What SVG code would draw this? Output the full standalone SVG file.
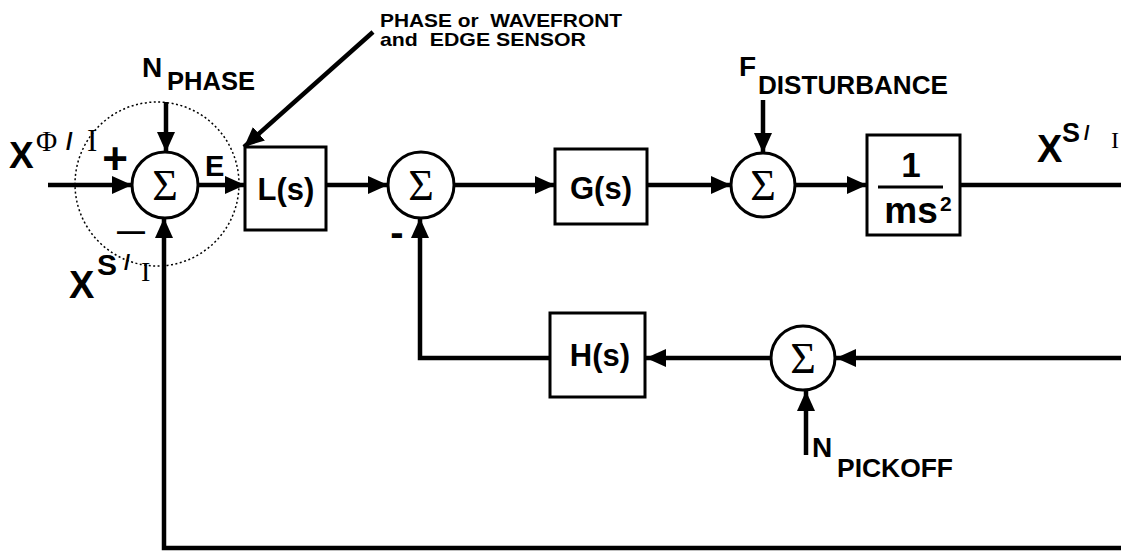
<svg xmlns="http://www.w3.org/2000/svg" width="1121" height="552" viewBox="0 0 1121 552">
<defs>
<style>
.w{fill:#000;font-family:"Liberation Sans",Arial,sans-serif;font-weight:bold;white-space:pre}
.s{fill:#000;font-family:"Liberation Serif","Times New Roman",serif;white-space:pre}
.box{fill:#fff;stroke:#000;stroke-width:3}
.sum{fill:#fff;stroke:#000;stroke-width:3}
.ln{fill:none;stroke:#000;stroke-width:4.5;stroke-linejoin:miter}
.sig{font-family:"Liberation Serif","Times New Roman",serif;font-size:44px;text-anchor:middle;fill:#000}
.bt{font-family:"Liberation Sans",Arial,sans-serif;font-weight:bold;font-size:31px;text-anchor:middle;fill:#000}
</style>
<marker id="ah" viewBox="0 0 20 18" refX="20" refY="9" markerWidth="20" markerHeight="18" markerUnits="userSpaceOnUse" orient="auto">
<path d="M0,0 L20,9 L0,18 z" fill="#000"/>
</marker>
</defs>
<rect width="1121" height="552" fill="#fff"/>

<g id="connectors">
<path class="ln" d="M48,185 H132" marker-end="url(#ah)"/>
<path class="ln" d="M166,102 V152" marker-end="url(#ah)"/>
<path class="ln" d="M198,185 H245" marker-end="url(#ah)"/>
<path class="ln" d="M373,32 L244,147" marker-end="url(#ah)"/>
<path class="ln" d="M326,185 H388" marker-end="url(#ah)"/>
<path class="ln" d="M454,185 H555" marker-end="url(#ah)"/>
<path class="ln" d="M647,185 H731" marker-end="url(#ah)"/>
<path class="ln" d="M763,100 V153" marker-end="url(#ah)"/>
<path class="ln" d="M795,185 H867" marker-end="url(#ah)"/>
<path class="ln" d="M960,185 H1121"/>
<path class="ln" d="M1121,358 H836" marker-end="url(#ah)"/>
<path class="ln" d="M806,455 V391" marker-end="url(#ah)"/>
<path class="ln" d="M770,358 H646" marker-end="url(#ah)"/>
<path class="ln" d="M550,358 H420 V218" marker-end="url(#ah)"/>
<path class="ln" d="M1121,548 H164 V218" marker-end="url(#ah)"/>
</g>

<g id="sensor-region">
<circle cx="157" cy="184" r="82" fill="none" stroke="#000" stroke-width="1.5" stroke-dasharray="2,2.5"/>
</g>

<g id="sum1">
<circle class="sum" cx="165" cy="185" r="33"/>
<text class="sig" x="165" y="200">Σ</text>
</g>
<g id="L">
<rect class="box" x="245" y="147" width="81" height="83"/>
<text class="bt" x="286" y="200">L(s)</text>
</g>
<g id="sum2">
<circle class="sum" cx="421" cy="185" r="33"/>
<text class="sig" x="421" y="200">Σ</text>
</g>
<g id="G">
<rect class="box" x="555" y="149" width="92" height="75"/>
<text class="bt" x="601" y="199">G(s)</text>
</g>
<g id="sum3">
<circle class="sum" cx="763" cy="185" r="32"/>
<text class="sig" x="763" y="200">Σ</text>
</g>
<g id="plant">
<rect class="box" x="867" y="135" width="93" height="100"/>
<text class="bt" x="911" y="177" style="font-size:35px">1</text>
<line x1="878" y1="187" x2="943" y2="187" stroke="#000" stroke-width="3"/>
<text class="bt" x="911" y="223" style="font-size:37px">ms</text>
<text class="w" x="940" y="211" style="font-size:21px">2</text>
</g>
<g id="sum4">
<circle class="sum" cx="803" cy="358" r="32"/>
<text class="sig" x="803" y="373">Σ</text>
</g>
<g id="H">
<rect class="box" x="550" y="313" width="95" height="84"/>
<text class="bt" x="600" y="366">H(s)</text>
</g>

<g id="labels">
<text class="w" x="380" y="27" style="font-size:19px" textLength="242" lengthAdjust="spacingAndGlyphs">PHASE or  WAVEFRONT</text>
<text class="w" x="380" y="46" style="font-size:19px" textLength="206" lengthAdjust="spacingAndGlyphs">and  EDGE SENSOR</text>

<text class="w" x="142" y="77" style="font-size:28px">N</text>
<text class="w" x="167" y="90" style="font-size:25px" textLength="88" lengthAdjust="spacingAndGlyphs">PHASE</text>

<text class="w" x="739" y="76" style="font-size:28px">F</text>
<text class="w" x="758" y="94" style="font-size:25px" textLength="190" lengthAdjust="spacingAndGlyphs">DISTURBANCE</text>

<text class="w" x="812" y="457" style="font-size:28px">N</text>
<text class="w" x="837" y="477" style="font-size:25px" textLength="116" lengthAdjust="spacingAndGlyphs">PICKOFF</text>

<text class="w" x="9" y="168" style="font-size:37px">X</text>
<text class="s" x="36" y="151" style="font-size:29px">Φ</text>
<text class="w" x="66" y="150" style="font-size:24px">/</text>
<text class="s" x="87" y="151" style="font-size:31px">I</text>

<text class="w" x="115" y="174" style="font-size:44px;text-anchor:middle">+</text>
<text class="w" x="205" y="176" style="font-size:29px">E</text>
<text class="w" x="131" y="240" style="font-size:28px;text-anchor:middle">—</text>

<text class="w" x="69" y="298" style="font-size:38px">X</text>
<text class="w" x="97" y="275" style="font-size:30px">S</text>
<text class="w" x="124" y="270" style="font-size:22px">/</text>
<text class="s" x="141" y="281" style="font-size:28px">I</text>

<text class="w" x="397" y="246" style="font-size:40px;text-anchor:middle">-</text>

<text class="w" x="1037" y="162" style="font-size:38px">X</text>
<text class="w" x="1062" y="142" style="font-size:27px">S</text>
<text class="w" x="1084" y="140" style="font-size:20px">/</text>
<text class="s" x="1111" y="148" style="font-size:24px">I</text>
</g>
</svg>
